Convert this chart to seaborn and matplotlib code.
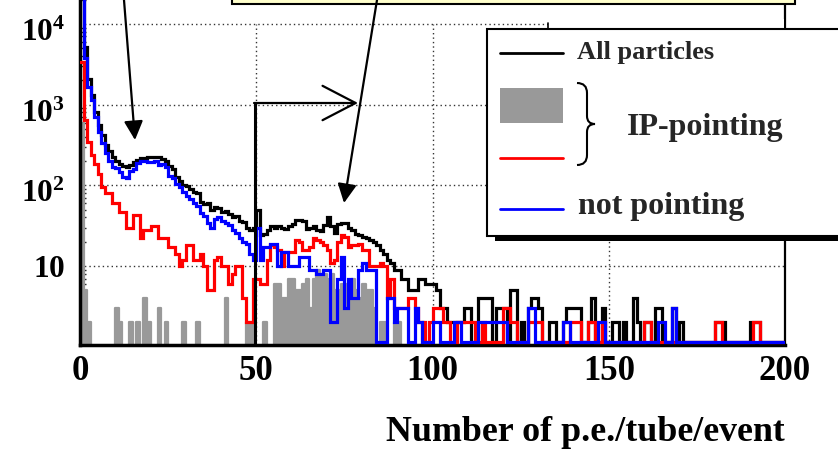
import numpy as np
import matplotlib
matplotlib.use("Agg")
import matplotlib.pyplot as plt
import seaborn as sns
from matplotlib.patches import Rectangle, FancyArrowPatch, ArrowStyle, PathPatch
from matplotlib.lines import Line2D
from matplotlib.path import Path
from matplotlib.transforms import Affine2D, ScaledTranslation
from matplotlib.ticker import FixedLocator, FixedFormatter, LogLocator, NullFormatter

# ---------------------------------------------------------------------------
# Histogram contents, 1 p.e. bins from 0 to 200
# ---------------------------------------------------------------------------
bin_edges = list(range(0, 201))

all_particles = [
    80000, 5200, 2100, 1300, 820, 560, 420, 320, 265, 225,
    200, 185, 175, 170, 180, 192, 205, 215, 218, 222,
    226, 222, 226, 210, 198, 175, 158, 125, 112, 100,
    97, 90, 83, 80, 62, 58, 60, 50, 54, 52,
    47, 48, 44, 40, 42, 36, 35, 30, 28, 30,
    50, 24, 25, 28, 31, 30, 31, 30, 29, 31,
    33, 37, 37, 36, 29, 30, 31, 28, 27, 32,
    40, 31, 26, 33, 34, 34, 30, 28, 25, 24,
    23, 22, 21, 20, 18, 16, 14, 12, 11, 9,
    9, 7, 7, 5, 5, 5, 7, 7, 6, 6,
    6, 5, 3, 3, 2, 2, 2, 2, 2, 3,
    3, 0, 0, 4, 4, 4, 4, 0, 3, 3,
    3, 0, 5, 5, 0, 2, 0, 3, 4, 4,
    3, 0, 0, 2, 2, 0, 0, 2, 3, 3,
    3, 3, 0, 0, 2, 4, 0, 0, 3, 0,
    0, 2, 2, 0, 2, 0, 0, 4, 2, 0,
    2, 2, 0, 3, 3, 0, 0, 0, 3, 0,
    2, 0, 0, 0, 0, 0, 0, 0, 0, 0,
    2, 2, 2, 0, 0, 0, 0, 0, 0, 0,
    2, 2, 2, 0, 0, 0, 0, 0, 0, 0,
]

ip_pointing_filled = [
    600, 5, 2, 0, 0, 0, 0, 0, 0, 0,
    3, 2, 0, 0, 2, 0, 2, 0, 4, 2,
    0, 0, 3, 0, 2, 0, 0, 0, 0, 2,
    0, 0, 0, 2, 0, 0, 0, 0, 0, 0,
    0, 4, 0, 0, 0, 0, 0, 2, 2, 0,
    0, 0, 2, 0, 0, 6, 6, 4, 4, 7,
    7, 5, 5, 6, 7, 3, 7, 9, 8, 8,
    7, 8, 5, 5, 6, 6, 4, 7, 5, 4,
    6, 5, 5, 3, 0, 2, 2, 0, 0, 2,
    2, 0, 0, 0, 0, 0, 0, 2, 0, 0,
] + [0] * 100

ip_pointing_line = [
    3400, 650, 340, 240, 185, 140, 96, 80, 80, 60,
    60, 47, 47, 30, 30, 43, 43, 22, 28, 28,
    31, 31, 22, 22, 22, 17, 17, 14, 10, 12,
    18, 18, 12, 12, 14, 10, 5, 5, 12, 13,
    10, 10, 6, 8, 10, 10, 4, 2, 2, 7,
    7, 6, 6, 12, 18, 17, 16, 10, 15, 15,
    15, 21, 20, 16, 16, 17, 22, 21, 20, 18,
    16, 11, 12, 20, 24, 23, 17, 18, 18, 19,
    16, 16, 10, 10, 10, 11, 10, 4, 7, 3,
    3, 3, 3, 4, 4, 3, 2, 2, 0, 2,
    3, 3, 3, 2, 2, 0, 0, 2, 2, 2,
    2, 2, 0, 0, 2, 0, 0, 0, 0, 0,
    3, 3, 2, 2, 0, 0, 0, 2, 2, 2,
    2, 0, 0, 0, 0, 0, 0, 0, 0, 2,
    2, 2, 0, 0, 2, 2, 0, 0, 2, 0,
    0, 0, 0, 0, 0, 0, 0, 0, 0, 0,
    2, 2, 0, 0, 0, 0, 0, 0, 0, 0,
    0, 0, 0, 0, 0, 0, 0, 0, 0, 0,
    2, 2, 0, 0, 0, 0, 0, 0, 0, 0,
    0, 2, 2, 0, 0, 0, 0, 0, 0, 0,
]

not_pointing = [
    50000, 3750, 1670, 1140, 710, 460, 330, 255, 200, 170,
    165, 148, 128, 122, 150, 160, 190, 200, 200, 195,
    195, 200, 180, 185, 170, 130, 123, 103, 95, 83,
    73, 67, 60, 55, 46, 42, 34, 30, 38, 40,
    36, 34, 32, 28, 26, 22, 20, 19, 14, 12,
    30, 12, 17, 17, 19, 19, 10, 15, 15, 10,
    10, 10, 13, 13, 13, 9, 9, 8, 8, 9,
    9, 2, 2, 7, 13, 3, 7, 4, 4, 9,
    11, 9, 9, 9, 0, 0, 0, 4, 4, 2,
    3, 3, 3, 0, 0, 3, 2, 0, 0, 0,
    2, 2, 0, 0, 0, 0, 2, 2, 0, 0,
    0, 0, 0, 2, 2, 2, 2, 2, 2, 2,
    2, 0, 0, 0, 0, 0, 0, 3, 3, 0,
    0, 0, 0, 0, 0, 0, 0, 2, 2, 0,
    0, 0, 0, 0, 0, 0, 0, 2, 2, 0,
    0, 0, 0, 0, 0, 0, 0, 0, 0, 0,
    0, 0, 0, 0, 2, 2, 0, 0, 3, 0,
    0, 0, 0, 0, 0, 0, 0, 0, 0, 0,
    0, 0, 0, 0, 0, 0, 0, 0, 0, 0,
    0, 0, 0, 0, 0, 0, 0, 0, 0, 0,
]

x_ticks = [0, 50, 100, 150, 200]
x_tick_labels = ["0", "50", "100", "150", "200"]
y_ticks = [10, 100, 1000, 10000]
y_tick_labels = [r"$\mathbf{10}$", r"$\mathbf{10^{2}}$", r"$\mathbf{10^{3}}$", r"$\mathbf{10^{4}}$"]
x_title = "Number of p.e./tube/event"
legend_labels = ["All particles", "IP-pointing", "not pointing"]

# ---------------------------------------------------------------------------
# Style
# ---------------------------------------------------------------------------
sns.set_theme(style="white")
plt.rcParams["font.family"] = ["Liberation Serif", "DejaVu Serif"]
plt.rcParams["font.weight"] = "bold"
plt.rcParams["mathtext.fontset"] = "custom"
plt.rcParams["mathtext.rm"] = "Liberation Serif:bold"
plt.rcParams["mathtext.bf"] = "Liberation Serif:bold"
plt.rcParams["mathtext.it"] = "Liberation Serif:bold"

GRAY = "#999999"
W, H = 838, 449
fig = plt.figure(figsize=(W / 100, H / 100), dpi=100)
fig.patch.set_facecolor("white")

# pixel coordinates (origin top-left) -> figure
PX = Affine2D().scale(1.0 / W, -1.0 / H).translate(0, 1) + fig.transFigure

YMIN, YMAX = 1.05, 1e5
DECADE_PX = 80.7
frame_l, frame_r, frame_b = 80, 785, 345
frame_h = DECADE_PX * (np.log10(YMAX) - np.log10(YMIN))
ax = fig.add_axes([frame_l / W, 1 - frame_b / H, (frame_r - frame_l) / W, frame_h / H])
ax.set_yscale("log")

edges = np.asarray(bin_edges, dtype=float)
centers = 0.5 * (edges[:-1] + edges[1:])
floor = 1.13  # empty bins sit on the bottom of the frame

sns.histplot(x=centers, weights=np.asarray(ip_pointing_filled, float), bins=bin_edges,
             element="step", fill=True, color=GRAY, alpha=1.0, linewidth=1.6,
             edgecolor=GRAY, ax=ax, zorder=2)
for vals, col in [(all_particles, "black"), (ip_pointing_line, "red"), (not_pointing, "blue")]:
    sns.histplot(x=centers, weights=np.clip(np.asarray(vals, float), floor, None), bins=bin_edges,
                 element="step", fill=False, color=col, ax=ax, zorder=3)
# heavier outlines for the step curves
for ln in ax.get_lines():
    ln.set_linewidth(2.3)
    ln.set_solid_joinstyle("miter")

ax.set_xlim(0, 200)
ax.set_ylim(YMIN, YMAX)
ax.set_xlabel("")
ax.set_ylabel("")

# dotted grid
for gx in (50, 100, 150):
    ax.plot([gx, gx], [YMIN, 1e4], color="#333333", lw=1.0, ls=(0, (1, 2.2)), zorder=1)
for gy in y_ticks:
    ax.plot([0, 200], [gy, gy], color="#333333", lw=1.0, ls=(0, (1, 2.2)), zorder=1)

ax.xaxis.set_major_locator(FixedLocator(x_ticks))
ax.xaxis.set_major_formatter(FixedFormatter(x_tick_labels))
ax.yaxis.set_major_locator(FixedLocator(y_ticks))
ax.yaxis.set_major_formatter(FixedFormatter(y_tick_labels))
ax.yaxis.set_minor_locator(LogLocator(base=10, subs=range(2, 10), numticks=20))
ax.yaxis.set_minor_formatter(NullFormatter())
ax.tick_params(axis="both", which="major", direction="in", length=8, width=1.5, colors="black")
ax.tick_params(axis="y", which="major", labelsize=22.5, pad=11)
ax.tick_params(axis="y", which="minor", direction="in", length=4, width=1.0, left=True)
ax.tick_params(axis="x", which="major", labelsize=25, pad=7)

# exponent labels sit a little lower than their ticks
for val, lab in zip(y_ticks, ax.get_yticklabels()):
    lab.set_fontweight("bold")
    if val > 10:
        lab.set_transform(lab.get_transform() + ScaledTranslation(0, -6 / 100, fig.dpi_scale_trans))
for lab in ax.get_xticklabels():
    lab.set_fontweight("bold")

for side in ("left", "bottom"):
    ax.spines[side].set_linewidth(2.5)
    ax.spines[side].set_color("black")
ax.spines["right"].set_linewidth(1.6)
ax.spines["right"].set_color("black")
ax.spines["top"].set_visible(False)

fig.text(frame_r / W, 1 - 441 / H, x_title, ha="right", va="baseline",
         fontsize=25.8, fontweight="bold", color="black")

# ---------------------------------------------------------------------------
# Annotations in pixel space
# ---------------------------------------------------------------------------
def add(artist):
    artist.set_transform(PX)
    artist.set_clip_on(False)
    fig.add_artist(artist)
    return artist

# label box at the top
add(Rectangle((232, -20), 563, 24, facecolor="#ffffcc", edgecolor="black", lw=1.5, zorder=5))

# blank panel edge between the label box and the legend
add(Rectangle((548, 19), 236, 12, facecolor="white", edgecolor="none", zorder=4))
add(Line2D([548, 548], [23, 30], color="black", lw=1.2, zorder=4))

# filled arrows from the label box
add(FancyArrowPatch((124, 0), (135, 140), arrowstyle=ArrowStyle("-|>", head_length=1.0, head_width=0.5),
                    mutation_scale=11.5, color="black", lw=1.6, shrinkA=0, shrinkB=0, zorder=6))
add(FancyArrowPatch((377, 0), (344, 203), arrowstyle=ArrowStyle("-|>", head_length=1.0, head_width=0.5),
                    mutation_scale=11.5, color="black", lw=1.6, shrinkA=0, shrinkB=0, zorder=6))

# selection bracket at 50 p.e.
add(Line2D([255, 255], [345, 103], color="black", lw=2.2, zorder=6))
add(FancyArrowPatch((254, 103), (358, 103), arrowstyle=ArrowStyle("->", head_length=1.0, head_width=0.52),
                    mutation_scale=23.8, color="black", lw=1.6, shrinkA=0, shrinkB=0, zorder=6))

# legend with drop shadow
add(Rectangle((495, 36), 360, 205, facecolor="black", edgecolor="none", zorder=7))
add(Rectangle((487, 29), 360, 207, facecolor="white", edgecolor="black", lw=1.5, zorder=8))
add(Line2D([500, 563], [53, 53], color="black", lw=2.0, zorder=9))
fig.text(577 / W, 1 - 53 / H, legend_labels[0], ha="left", va="center", fontsize=19,
         fontweight="bold", zorder=9)
add(Rectangle((500, 88), 63, 35, facecolor=GRAY, edgecolor="none", zorder=9))
add(Line2D([500, 563], [158, 158], color="red", lw=2.0, zorder=9))
brace = Path([(577, 83), (587, 83), (587, 93), (587, 116), (587, 124), (595, 124),
              (587, 124), (587, 132), (587, 155), (587, 165), (577, 165)],
             [Path.MOVETO, Path.CURVE3, Path.CURVE3, Path.LINETO, Path.CURVE3, Path.CURVE3,
              Path.CURVE3, Path.CURVE3, Path.LINETO, Path.CURVE3, Path.CURVE3])
add(PathPatch(brace, facecolor="none", edgecolor="black", lw=1.5, zorder=9))
fig.text(627 / W, 1 - 127 / H, legend_labels[1], ha="left", va="center", fontsize=23,
         fontweight="bold", zorder=9)
add(Line2D([500, 563], [209, 209], color="blue", lw=2.0, zorder=9))
fig.text(578 / W, 1 - 206 / H, legend_labels[2], ha="left", va="center", fontsize=23,
         fontweight="bold", zorder=9)

fig.savefig("out.png", dpi=100)
